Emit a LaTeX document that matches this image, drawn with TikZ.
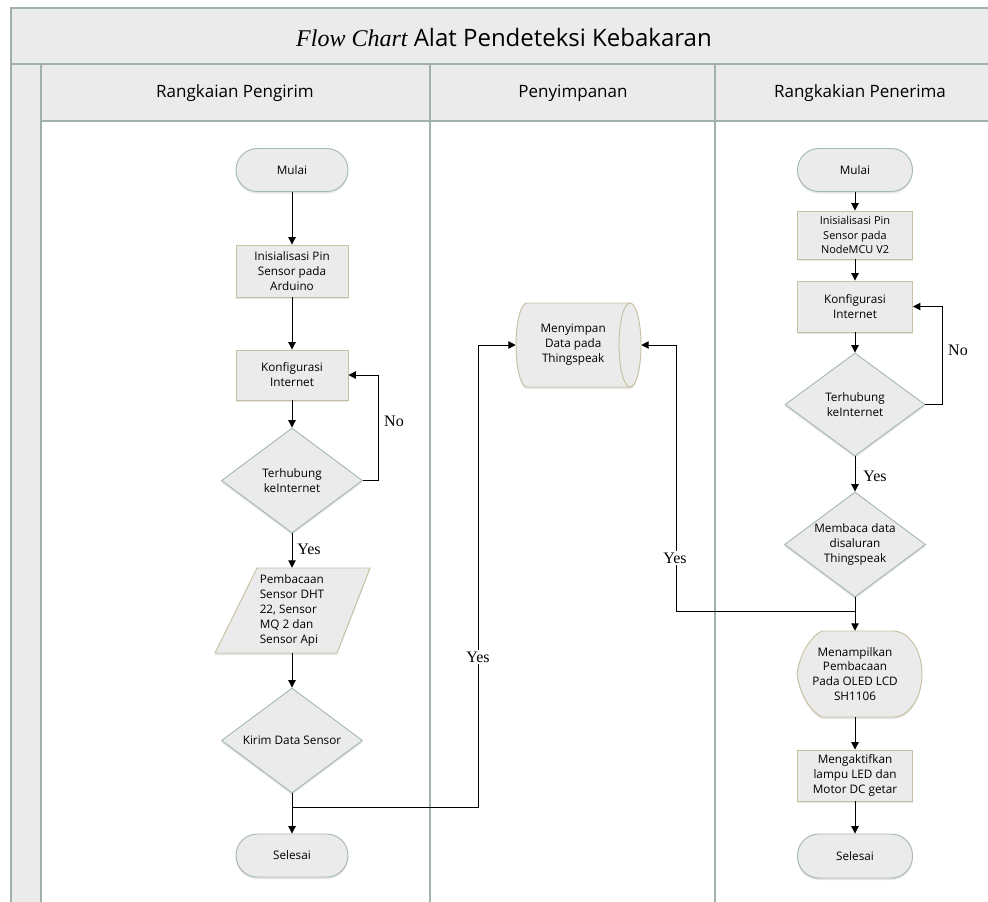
\documentclass[tikz,border=0pt]{standalone}
\usepackage{fontspec}
\setmainfont{Open Sans}
\newfontfamily\tnr{Liberation Serif}
\usetikzlibrary{shapes.geometric,arrows.meta,shadows}
\definecolor{fillc}{RGB}{235,235,235}
\definecolor{lanec}{RGB}{160,176,170}
\definecolor{tanc}{RGB}{200,192,160}
\definecolor{grc}{RGB}{165,185,178}
\tikzset{
 hatch/.style={fill=fillc},
 shad/.style={drop shadow={shadow xshift=0pt, shadow yshift=-1.5pt, opacity=0.25, fill=black!40}},
 txt/.style={font=\fontsize{8.8}{11.2}\selectfont, align=center},
 term/.style={rectangle, rounded corners=16pt, draw=grc, line width=0.7pt, shad, hatch, minimum width=84pt, minimum height=32.25pt, txt},
 proc/.style={rectangle, draw=tanc, line width=0.7pt, shad, hatch, minimum width=84pt, minimum height=39pt, txt, inner sep=1pt},
 dec/.style={diamond, draw=grc, line width=0.7pt, shad, hatch, minimum width=105.75pt, minimum height=78.75pt, inner sep=0pt},
 outl/.style={draw=tanc, line width=0.7pt, shad, hatch},
 ghost/.style={txt, inner sep=0pt},
 arr/.style={-{Triangle[length=5.5pt,width=5.5pt]}, line width=0.75pt},
 lbl/.style={font=\tnr\fontsize{12}{12}\selectfont, inner sep=1pt},
 hdr/.style={font=\fontsize{12.75}{14}\selectfont},
}
\begin{document}
\begin{tikzpicture}[x=0.75pt,y=-0.75pt]
\useasboundingbox (0,0) rectangle (988,901);
\clip (0,0) rectangle (988,901);
\fill[white] (0,0) rectangle (988,901);
% pool and lanes
\path[hatch, draw=lanec, line width=0.8pt] (11,8) rectangle (1010,64);
\path[hatch, draw=lanec, line width=0.8pt] (11,64) rectangle (41,920);
\path[hatch, draw=lanec, line width=0.8pt] (41,64) rectangle (1010,121);
\draw[lanec, line width=1pt] (430,64) -- (430,920);
\draw[lanec, line width=1pt] (715,64) -- (715,920);
\node[font=\fontsize{18}{20}\selectfont] (title) at (504,37) {{\tnr\itshape Flow Chart} Alat Pendeteksi Kebakaran};
\node[hdr] (h1) at (235,93) {Rangkaian Pengirim};
\node[hdr] (h2) at (573,93) {Penyimpanan};
\node[hdr] (h3) at (860,93) {Rangkakian Penerima};
% custom outlines
\draw[outl] (257,568) -- (370,568) -- (337,653) -- (215,653) -- cycle;
\draw[outl] (527,303) -- (630,303) arc[start angle=90,end angle=-90,x radius=8.25pt,y radius=31.5pt] -- (527,387) arc[start angle=270,end angle=90,x radius=8.25pt,y radius=31.5pt] -- cycle;
\draw[tanc, line width=0.7pt] (630,303) arc[start angle=90,end angle=270,x radius=8.25pt,y radius=31.5pt];
\draw[outl] (822,631) -- (893,631) arc[start angle=90,end angle=-90,x radius=21.75pt,y radius=32.25pt] -- (822,717) .. controls (808,710) and (799,690) .. (797,674) .. controls (799,658) and (808,638) .. (822,631) -- cycle;
% left lane
\node[term] (m1) at (292,170) {Mulai};
\node[proc] (i1) at (292,271) {Inisialisasi Pin\\Sensor pada\\Arduino};
\node[proc, minimum height=37.5pt] (k1) at (292,375) {Konfigurasi\\Internet};
\node[dec, label={[txt]center:{Terhubung\\keInternet}}] (t1) at (292,480.5) {};
\node[ghost, align=left, minimum height=63.75pt] (p1) at (292,610.5) {Pembacaan\\Sensor DHT\\22, Sensor\\MQ 2 dan\\Sensor Api};
\node[dec, label={[txt]center:{Kirim Data Sensor}}] (kd) at (292,740.5) {};
\node[term] (s1) at (292,855.5) {Selesai};
% storage
\node[ghost, minimum width=93.75pt, minimum height=63pt, label={[txt, xshift=-4pt]center:{Menyimpan\\Data pada\\Thingspeak}}] (cyl) at (578.5,345) {};
% right lane
\node[term, minimum width=86.25pt] (m2) at (855,170) {Mulai};
\node[proc, minimum width=86.25pt, minimum height=36pt, font=\fontsize{8.2}{11}\selectfont] (i2) at (855,235) {Inisialisasi Pin\\Sensor pada\\NodeMCU V2};
\node[proc, minimum width=86.25pt, minimum height=38.25pt] (k2) at (855,306.5) {Konfigurasi\\Internet};
\node[dec, minimum width=105pt, minimum height=77.25pt, label={[txt]center:{Terhubung\\keInternet}}] (t2) at (855,404.5) {};
\node[dec, label={[txt]center:{Membaca data\\disaluran\\Thingspeak}}] (r2) at (855,544.5) {};
\node[ghost, minimum height=64.5pt] (disp) at (855,674) {Menampilkan\\Pembacaan\\Pada OLED LCD\\SH1106};
\node[proc, minimum width=86.25pt, minimum height=38.25pt] (e2) at (855,775.5) {Mengaktifkan\\lampu LED dan\\Motor DC getar};
\node[term, minimum width=86.25pt, minimum height=33pt] (s2) at (855,856) {Selesai};
% connectors left
\draw[arr] (m1) -- (i1);
\draw[arr] (i1) -- (k1);
\draw[arr] (k1) -- (t1);
\draw[arr] (t1.east) -- ++(12pt,0) |- (k1.east);
\draw[arr] (t1) -- (p1);
\draw[arr] (p1) -- (kd);
\draw[arr] (kd) -- (s1);
\coordinate (j1) at (292,807);
\draw[arr] (j1) -- ++(139.5pt,0) |- (cyl.west);
% connectors right
\draw[arr] (m2) -- (i2);
\draw[arr] (i2) -- (k2);
\draw[arr] (k2) -- (t2);
\draw[arr] (t2.east) -- ++(12.75pt,0) |- (k2.east);
\draw[arr] (t2) -- (r2);
\draw[arr] (r2) -- (disp);
\draw[arr] (disp) -- (e2);
\draw[arr] (e2) -- (s2);
\coordinate (j2) at (855,611);
\draw[arr] (j2) -- ++(-134.25pt,0) |- (cyl.east);
% labels
\node[lbl] (no1) at (394,421) {No};
\node[lbl] (yes1) at (309,549) {Yes};
\node[lbl, fill=white] (yes3) at (478,657) {Yes};
\node[lbl] (no2) at (958,350) {No};
\node[lbl] (yes2) at (875,476) {Yes};
\node[lbl, fill=white] (yes4) at (675,558) {Yes};
\end{tikzpicture}
\end{document}
